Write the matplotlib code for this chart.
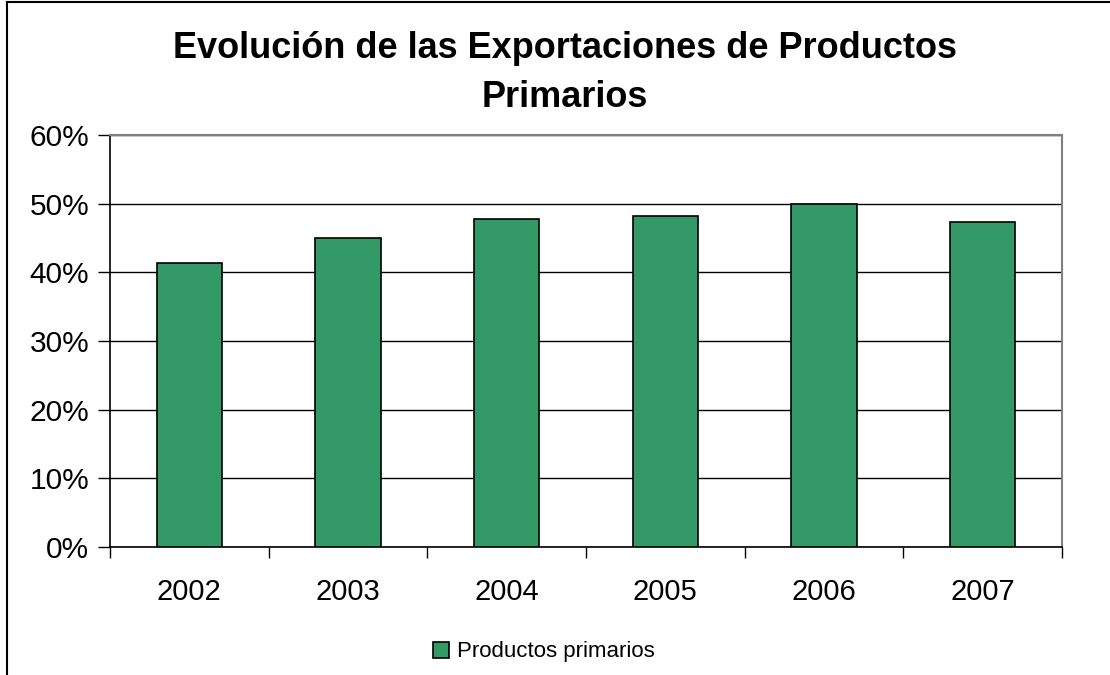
import matplotlib
matplotlib.use("Agg")
import matplotlib.pyplot as plt
from matplotlib.lines import Line2D
from matplotlib.ticker import FuncFormatter, FixedLocator

years = ["2002", "2003", "2004", "2005", "2006", "2007"]
values = [41.3, 45.0, 47.7, 48.2, 50.0, 47.4]
series_name = "Productos primarios"
title = "Evolución de las Exportaciones de Productos\nPrimarios"

plt.rcParams['font.family'] = ['Liberation Sans', 'DejaVu Sans']

fig = plt.figure(figsize=(11.1, 6.75), dpi=100)
W, H = 1110, 675
ax = fig.add_axes([110 / W, 1 - 547 / H, (1062 - 110) / W, (547 - 135) / H])

x = list(range(len(years)))
bars = ax.bar(x, values, width=0.41, color="#339966", edgecolor="black",
              linewidth=1.2, zorder=3, label=series_name)

ax.set_xlim(-0.5, len(years) - 0.5)
ax.set_ylim(0, 60)
ax.yaxis.set_major_locator(FixedLocator([0, 10, 20, 30, 40, 50, 60]))
ax.yaxis.set_major_formatter(FuncFormatter(lambda v, p: f"{int(v)}%"))
ax.set_xticks(x)
ax.set_xticklabels(years)
ax.xaxis.set_minor_locator(FixedLocator([i - 0.5 for i in range(len(years) + 1)]))
ax.tick_params(axis="x", which="major", length=0, pad=22, labelsize=21)
ax.tick_params(axis="x", which="minor", length=8, width=1, color="black", direction="out")
ax.tick_params(axis="y", length=9, width=1, color="black", direction="out", pad=6, labelsize=21.5)

ax.grid(axis="y", color="black", linewidth=1, zorder=0)
ax.set_axisbelow(True)
for s in ["top", "right"]:
    ax.spines[s].set_color("#808080")
    ax.spines[s].set_linewidth(1.5)
ax.spines["left"].set_color("black")
ax.spines["bottom"].set_color("black")
ax.spines["left"].set_linewidth(1.2)
ax.spines["bottom"].set_linewidth(1.2)

fig.text(565 / W, 1 - 73 / H, title, ha="center", va="center", fontsize=26,
         fontweight="bold", linespacing=1.55)

leg = fig.legend(handles=[bars], labels=[series_name], loc="center",
                 bbox_to_anchor=(544 / W, 1 - 652 / H), frameon=False,
                 fontsize=16, handlelength=0.7, handleheight=0.7, handletextpad=0.35)

fig.add_artist(Line2D([7 / W, 7 / W], [0, 1 - 2 / H], color="black", linewidth=1.5,
                      transform=fig.transFigure))
fig.add_artist(Line2D([7 / W, 1], [1 - 2 / H, 1 - 2 / H], color="black", linewidth=1.5,
                      transform=fig.transFigure))

fig.savefig("out.png", dpi=100)
